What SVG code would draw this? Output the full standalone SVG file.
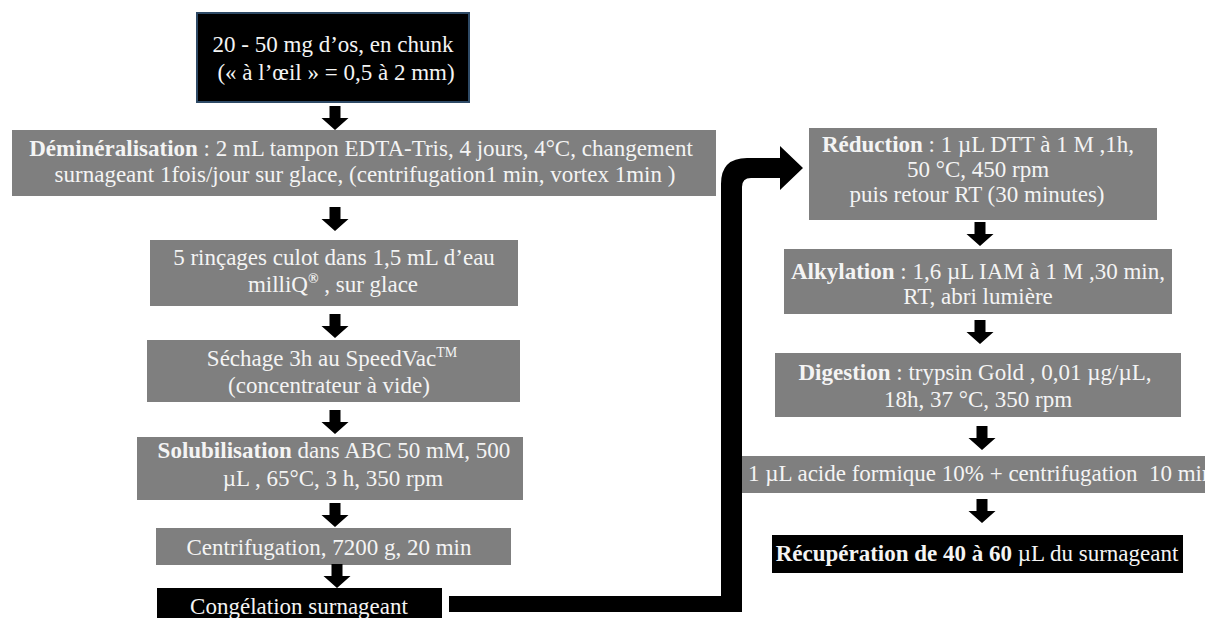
<svg xmlns="http://www.w3.org/2000/svg" width="1205" height="618" viewBox="0 0 1205 618">
<defs>
<style>
.t{font-family:"Liberation Serif","Times New Roman",serif;font-size:23px;fill:#f4f4f4;text-anchor:middle}
.b{font-weight:bold}
.g{fill:#7f7f7f}
.k{fill:#000}
.sup{font-size:14px}
</style>
<path id="arr" d="M-5.5,0 H5.5 V12 H13.5 L0,24 L-13.5,12 H-5.5 Z" fill="#000"/>
</defs>
<rect width="1205" height="618" fill="#fff"/>

<g id="n1">
<rect x="197" y="13" width="272" height="89" fill="#000" stroke="#2e4a66" stroke-width="2"/>
<text class="t" x="333" y="52">20 - 50 mg d’os, en chunk</text>
<text class="t" x="336" y="80">(« à l’œil » = 0,5 à 2 mm)</text>
</g>

<g id="n2">
<rect class="g" x="12" y="130" width="704" height="66"/>
<text class="t" x="361" y="156"><tspan class="b">Déminéralisation</tspan> : 2 mL tampon EDTA-Tris, 4 jours, 4°C, changement</text>
<text class="t" x="365" y="182">surnageant 1fois/jour sur glace, (centrifugation1 min, vortex 1min )</text>
</g>

<g id="n3">
<rect class="g" x="150" y="240" width="368" height="66"/>
<text class="t" x="334" y="265">5 rinçages culot dans 1,5 mL d’eau</text>
<text class="t" x="333" y="292">milliQ<tspan class="sup b" dy="-9">®</tspan><tspan dy="9"> , sur glace</tspan></text>
</g>

<g id="n4">
<rect class="g" x="147" y="340" width="373" height="62"/>
<text class="t" x="332" y="366">Séchage 3h au SpeedVac<tspan class="sup" dy="-9">TM</tspan></text>
<text class="t" x="329" y="393">(concentrateur à vide)</text>
</g>

<g id="n5">
<rect class="g" x="137" y="437" width="386" height="63"/>
<text class="t" x="334" y="458"><tspan class="b">Solubilisation</tspan> dans ABC 50 mM, 500</text>
<text class="t" x="333" y="486">µL , 65°C, 3 h, 350 rpm</text>
</g>

<g id="n6">
<rect class="g" x="156" y="528" width="355" height="37"/>
<text class="t" x="329" y="555">Centrifugation, 7200 g, 20 min</text>
</g>

<g id="n7">
<rect class="k" x="157" y="588" width="285" height="40"/>
<text class="t" x="299" y="614">Congélation surnageant</text>
</g>

<g id="n8">
<rect class="g" x="809" y="128" width="348" height="92"/>
<text class="t" x="978" y="152"><tspan class="b">Réduction</tspan> : 1 µL DTT à 1 M ,1h,</text>
<text class="t" x="978" y="177">50 °C, 450 rpm</text>
<text class="t" x="977" y="202">puis retour RT (30 minutes)</text>
</g>

<g id="n9">
<rect class="g" x="784" y="249" width="388" height="65"/>
<text class="t" x="978" y="279"><tspan class="b">Alkylation</tspan> : 1,6 µL IAM à 1 M ,30 min,</text>
<text class="t" x="978" y="304">RT, abri lumière</text>
</g>

<g id="n10">
<rect class="g" x="775" y="353" width="406" height="64"/>
<text class="t" x="975" y="380"><tspan class="b">Digestion</tspan> : trypsin Gold , 0,01 µg/µL,</text>
<text class="t" x="978" y="407">18h, 37 °C, 350 rpm</text>
</g>

<g id="n11">
<rect class="g" x="742" y="456" width="463" height="37"/>
<text class="t" x="748" y="481" style="text-anchor:start">1 µL acide formique 10% + centrifugation&#160; 10 min</text>
</g>

<g id="n12">
<rect class="k" x="772" y="535" width="411" height="38"/>
<text class="t" x="977" y="561"><tspan class="b">Récupération de 40 à 60</tspan> µL du surnageant</text>
</g>

<g id="connectors">
<use href="#arr" x="335" y="106"/>
<use href="#arr" x="335" y="207"/>
<use href="#arr" x="335" y="314"/>
<use href="#arr" x="335" y="410"/>
<use href="#arr" x="335" y="503"/>
<use href="#arr" x="337" y="564"/>
<use href="#arr" x="980" y="222"/>
<use href="#arr" x="980" y="320"/>
<use href="#arr" x="982" y="426"/>
<use href="#arr" x="982" y="499"/>
<path d="M449,596 L721,596 L721,184 Q721,158 747,158 L780,158 L780,146 L803,168 L780,190 L780,178 L751,178 Q742,178 742,187 L742,612 L449,612 Z" fill="#000"/>
</g>
</svg>
